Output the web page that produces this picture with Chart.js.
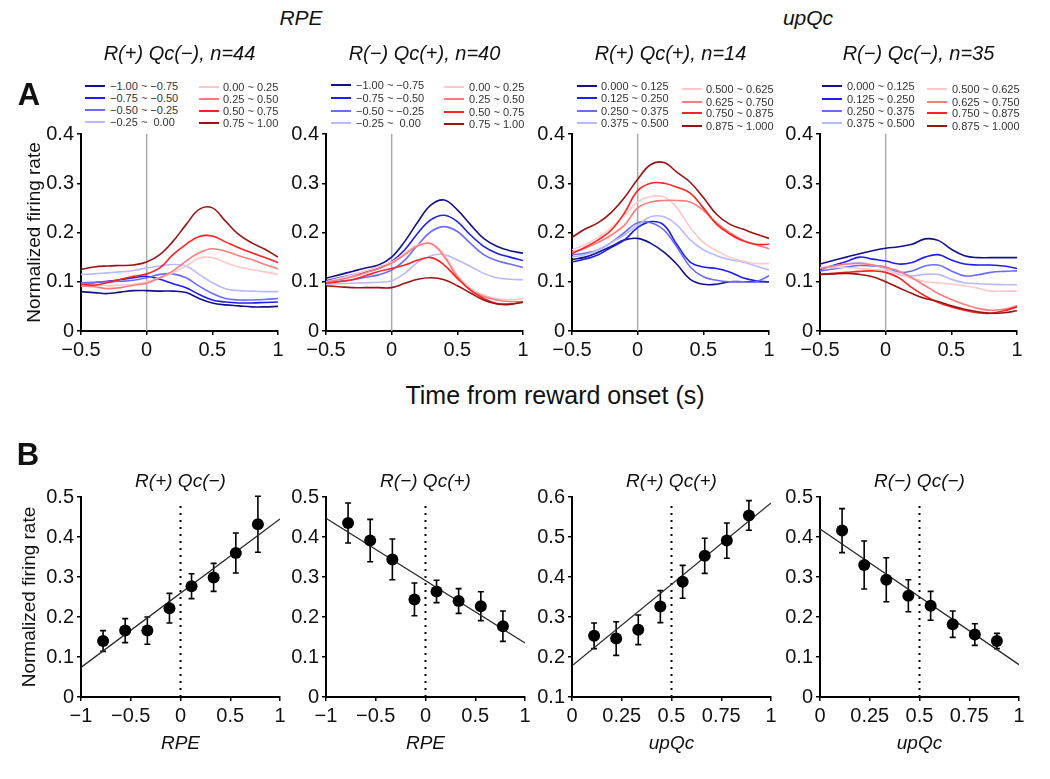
<!DOCTYPE html>
<html><head><meta charset="utf-8">
<script src="https://cdn.jsdelivr.net/npm/chart.js@4.4.1/dist/chart.umd.min.js"></script>
<style>
html,body{margin:0;padding:0;background:#fff;}
#wrap{position:relative;width:1050px;height:779px;overflow:hidden;font-family:'Liberation Sans',Arial,sans-serif;color:#111;}
canvas{position:absolute;}
.t{position:absolute;white-space:nowrap;transform:translate(-50%,-50%);line-height:1;}
.lg{position:absolute;white-space:pre;font-size:11px;color:#333;line-height:1;transform:translateY(-50%);}
.ll{position:absolute;height:2px;transform:translateY(-50%);}
</style></head><body><div id="wrap"></div>
<script>
// ---------------- DATA ----------------
const timeA = [-0.5,-0.4,-0.3,-0.2,-0.1,0,0.1,0.2,0.3,0.4,0.5,0.6,0.7,0.8,0.9,1.0];
const onsetTime = 0;
const rpeBins = ['−1.00 ~ −0.75','−0.75 ~ −0.50','−0.50 ~ −0.25','−0.25 ~  0.00','0.00 ~ 0.25','0.25 ~ 0.50','0.50 ~ 0.75','0.75 ~ 1.00'];
const upQcBins = ['0.000 ~ 0.125','0.125 ~ 0.250','0.250 ~ 0.375','0.375 ~ 0.500','0.500 ~ 0.625','0.625 ~ 0.750','0.750 ~ 0.875','0.875 ~ 1.000'];
const panelTitlesA = ['R(+) Qc(−), n=44','R(−) Qc(+), n=40','R(+) Qc(+), n=14','R(−) Qc(−), n=35'];
const panelTitlesB = ['R(+) Qc(−)','R(−) Qc(+)','R(+) Qc(+)','R(−) Qc(−)'];
const groupTitles = ['RPE','upQc'];
const xTitlesB = ['RPE','RPE','upQc','upQc'];

// Panel A1: R(+) Qc(-)
const a1_s1 = [0.080,0.078,0.076,0.079,0.082,0.082,0.081,0.081,0.078,0.066,0.057,0.053,0.051,0.049,0.049,0.050];
const a1_s2 = [0.096,0.098,0.101,0.104,0.108,0.111,0.105,0.096,0.088,0.074,0.063,0.059,0.057,0.057,0.058,0.059];
const a1_s3 = [0.098,0.099,0.100,0.101,0.103,0.108,0.115,0.116,0.108,0.091,0.076,0.066,0.063,0.063,0.064,0.066];
const a1_s4 = [0.115,0.116,0.118,0.120,0.123,0.128,0.132,0.135,0.132,0.115,0.098,0.086,0.082,0.081,0.080,0.080];
const a1_s5 = [0.095,0.094,0.092,0.093,0.095,0.100,0.108,0.118,0.132,0.148,0.149,0.139,0.130,0.125,0.120,0.115];
const a1_s6 = [0.091,0.090,0.086,0.088,0.093,0.097,0.108,0.122,0.142,0.159,0.167,0.162,0.153,0.145,0.135,0.126];
const a1_s7 = [0.095,0.093,0.098,0.105,0.111,0.116,0.128,0.155,0.176,0.192,0.193,0.181,0.169,0.159,0.149,0.139];
const a1_s8 = [0.125,0.130,0.132,0.133,0.134,0.140,0.155,0.182,0.216,0.247,0.250,0.223,0.196,0.179,0.166,0.150];
// Panel A2: R(-) Qc(+)
const a2_s1 = [0.107,0.114,0.121,0.128,0.134,0.150,0.182,0.222,0.256,0.266,0.246,0.216,0.188,0.172,0.163,0.158];
const a2_s2 = [0.102,0.108,0.114,0.120,0.127,0.141,0.165,0.199,0.226,0.235,0.222,0.195,0.172,0.158,0.150,0.143];
const a2_s3 = [0.099,0.101,0.104,0.109,0.114,0.124,0.144,0.175,0.202,0.212,0.202,0.178,0.155,0.143,0.136,0.129];
const a2_s4 = [0.095,0.096,0.097,0.098,0.099,0.102,0.117,0.140,0.153,0.155,0.144,0.131,0.117,0.108,0.105,0.104];
const a2_s5 = [0.100,0.107,0.114,0.122,0.131,0.140,0.158,0.175,0.178,0.155,0.114,0.087,0.073,0.066,0.064,0.066];
const a2_s6 = [0.099,0.104,0.110,0.118,0.127,0.138,0.155,0.173,0.177,0.151,0.110,0.083,0.070,0.063,0.060,0.060];
const a2_s7 = [0.097,0.100,0.104,0.112,0.121,0.127,0.134,0.144,0.149,0.134,0.107,0.083,0.066,0.056,0.055,0.058];
const a2_s8 = [0.092,0.090,0.088,0.088,0.088,0.088,0.097,0.105,0.108,0.104,0.092,0.077,0.063,0.055,0.054,0.059];
// Panel A3: R(+) Qc(+)
const a3_s1 = [0.145,0.150,0.160,0.172,0.185,0.188,0.178,0.160,0.135,0.105,0.095,0.095,0.100,0.100,0.100,0.100];
const a3_s2 = [0.140,0.146,0.155,0.170,0.185,0.210,0.222,0.215,0.175,0.140,0.130,0.127,0.120,0.108,0.102,0.100];
const a3_s3 = [0.155,0.158,0.165,0.180,0.200,0.220,0.220,0.205,0.170,0.130,0.110,0.103,0.100,0.100,0.100,0.112];
const a3_s4 = [0.150,0.155,0.165,0.180,0.195,0.215,0.232,0.232,0.215,0.185,0.165,0.153,0.145,0.140,0.132,0.124];
const a3_s5 = [0.165,0.175,0.190,0.210,0.235,0.262,0.273,0.272,0.250,0.210,0.180,0.163,0.150,0.142,0.137,0.137];
const a3_s6 = [0.160,0.168,0.180,0.195,0.215,0.250,0.262,0.265,0.265,0.262,0.245,0.220,0.200,0.185,0.175,0.167];
const a3_s7 = [0.157,0.170,0.185,0.205,0.240,0.285,0.300,0.300,0.292,0.280,0.250,0.217,0.197,0.183,0.176,0.176];
const a3_s8 = [0.190,0.207,0.220,0.241,0.271,0.308,0.338,0.342,0.322,0.302,0.271,0.237,0.217,0.207,0.197,0.188];
// Panel A4: R(-) Qc(-)
const a4_s1 = [0.136,0.143,0.150,0.157,0.163,0.168,0.171,0.176,0.187,0.184,0.166,0.153,0.149,0.149,0.149,0.149];
const a4_s2 = [0.125,0.133,0.141,0.150,0.146,0.142,0.136,0.139,0.150,0.155,0.144,0.136,0.134,0.134,0.132,0.127];
const a4_s3 = [0.122,0.126,0.130,0.133,0.132,0.130,0.119,0.122,0.132,0.134,0.122,0.112,0.114,0.119,0.121,0.122];
const a4_s4 = [0.127,0.132,0.136,0.139,0.134,0.127,0.115,0.112,0.115,0.115,0.105,0.098,0.096,0.095,0.094,0.094];
const a4_s5 = [0.129,0.129,0.129,0.127,0.125,0.123,0.117,0.107,0.100,0.098,0.095,0.092,0.087,0.081,0.081,0.081];
const a4_s6 = [0.127,0.132,0.136,0.137,0.134,0.129,0.122,0.108,0.092,0.076,0.064,0.054,0.046,0.042,0.044,0.051];
const a4_s7 = [0.115,0.117,0.119,0.121,0.122,0.119,0.108,0.088,0.071,0.058,0.049,0.042,0.037,0.036,0.041,0.049];
const a4_s8 = [0.115,0.116,0.117,0.115,0.110,0.100,0.088,0.076,0.066,0.060,0.051,0.044,0.039,0.036,0.037,0.041];

// Panel B
const bRpeX  = [-0.778,-0.556,-0.333,-0.111,0.111,0.333,0.556,0.778];
const bUpQcX = [0.111,0.222,0.333,0.444,0.556,0.667,0.778,0.889];
const b1Mean = [0.140,0.166,0.166,0.222,0.277,0.299,0.360,0.432];
const b1Err  = [0.026,0.030,0.034,0.037,0.031,0.035,0.050,0.070];
const b1Fit  = [0.074,0.445];
const b2Mean = [0.435,0.391,0.344,0.244,0.264,0.240,0.227,0.177];
const b2Err  = [0.050,0.053,0.051,0.041,0.028,0.031,0.036,0.038];
const b2Fit  = [0.447,0.135];
const b3Mean = [0.253,0.246,0.268,0.326,0.388,0.453,0.491,0.554];
const b3Err  = [0.032,0.042,0.037,0.040,0.041,0.044,0.044,0.037];
const b3Fit  = [0.178,0.585];
const b4Mean = [0.416,0.330,0.293,0.253,0.228,0.182,0.156,0.140];
const b4Err  = [0.055,0.060,0.055,0.040,0.036,0.033,0.027,0.019];
const b4Fit  = [0.420,0.081];

// ---------------- STYLE / LAYOUT ----------------
const binColors = ['#12128c','#1e1ef0','#6b6bff','#b9b9ff','#ffc8c8','#ff7b7b','#ff2222','#9a1414'];
const FONT = "'Liberation Sans', Arial, sans-serif";
const colLeft = [81,326,572,820];
const plotW = 197;
const aTop = 134, aH = 197;
const bTop = 497, bH = 200;
const YW = 70, PADT = 15, PADR = 15;

Chart.defaults.font.family = FONT;
const wrap = document.getElementById('wrap');

function addText(txt, cx, cy, css){
  const d = document.createElement('div');
  d.className = 't'; d.textContent = txt; d.style.left = cx+'px'; d.style.top = cy+'px';
  Object.assign(d.style, css||{});
  wrap.appendChild(d);
}
function addCanvas(left, top, w, h){
  const c = document.createElement('canvas');
  c.width = w; c.height = h;
  c.style.left = left+'px'; c.style.top = top+'px';
  c.style.width = w+'px'; c.style.height = h+'px';
  wrap.appendChild(c);
  return c;
}
const fmt = v => String(Math.round(v*1000)/1000).replace('-', '−');

function scalesCfg(o){
  return {
    x: {
      type:'linear', min:o.xmin, max:o.xmax,
      ticks:{stepSize:o.xstep, callback:fmt, font:{family:FONT,size:20}, color:'#111', padding:3, maxRotation:0, autoSkip:false},
      grid:{display:true, drawOnChartArea:false, drawTicks:true, tickLength:4, color:'#000', lineWidth:1.5},
      border:{display:true, color:'#000', width:2},
      title: o.xTitle ? {display:true, text:o.xTitle, color:'#111', font:{family:FONT,size:19,style:'italic',lineHeight:1.2}, padding:{top:0,bottom:2}} : {display:false},
      afterFit: s => { s.height = o.xh; }
    },
    y: {
      type:'linear', min:o.ymin, max:o.ymax,
      ticks:{stepSize:o.ystep, callback:fmt, font:{family:FONT,size:20}, color:'#111', padding:3, autoSkip:false},
      grid:{display:true, drawOnChartArea:false, drawTicks:true, tickLength:4, color:'#000', lineWidth:1.5},
      border:{display:true, color:'#000', width:2},
      title: o.yTitle ? {display:true, text:o.yTitle, color:'#111', font:{family:FONT,size:19,lineHeight:1.2}, padding:{top:o.yTitlePad,bottom:0}} : {display:false},
      afterFit: s => { s.width = YW; }
    }
  };
}

const errorBarPlugin = {
  id:'errbars',
  beforeDatasetsDraw(chart, args, opts){
    if(!opts || !opts.xs) return;
    const {ctx} = chart; const x = chart.scales.x, y = chart.scales.y;
    ctx.save(); ctx.strokeStyle = '#000'; ctx.lineWidth = 1.6;
    opts.xs.forEach((xv,i)=>{
      const px = x.getPixelForValue(xv);
      const y1 = y.getPixelForValue(opts.mean[i]+opts.err[i]);
      const y2 = y.getPixelForValue(opts.mean[i]-opts.err[i]);
      ctx.beginPath();
      ctx.moveTo(px,y1); ctx.lineTo(px,y2);
      ctx.moveTo(px-3,y1); ctx.lineTo(px+3,y1);
      ctx.moveTo(px-3,y2); ctx.lineTo(px+3,y2);
      ctx.stroke();
    });
    ctx.restore();
  }
};

const commonOpts = {
  responsive:false, animation:false, events:[],
  layout:{padding:{top:PADT,right:PADR,left:0,bottom:0}},
  plugins:{legend:{display:false}, tooltip:{enabled:false}, title:{display:false}}
};

// ---------------- PANEL A ----------------
const seriesA = [
  [a1_s1,a1_s2,a1_s3,a1_s4,a1_s5,a1_s6,a1_s7,a1_s8],
  [a2_s1,a2_s2,a2_s3,a2_s4,a2_s5,a2_s6,a2_s7,a2_s8],
  [a3_s1,a3_s2,a3_s3,a3_s4,a3_s5,a3_s6,a3_s7,a3_s8],
  [a4_s1,a4_s2,a4_s3,a4_s4,a4_s5,a4_s6,a4_s7,a4_s8]
];
const binsA = [rpeBins, rpeBins, upQcBins, upQcBins];
const legendLayout = [
  {c1:4, t1:29, c2:118, t2:142, r1:[86,98,110,122], r2:[87,99,111,123]},
  {c1:5, t1:30, c2:118, t2:143, r1:[85,98,111,123], r2:[87,99,112,124]},
  {c1:5, t1:29, c2:110, t2:134, r1:[86,98,111,123], r2:[89,102,113,126]},
  {c1:2, t1:27, c2:107, t2:132, r1:[86,99,111,123], r2:[89,102,113,126]}
];

seriesA.forEach((list, p) => {
  const cv = addCanvas(colLeft[p]-YW, aTop-PADT, YW+plotW+PADR, PADT+aH+40);
  const datasets = list.map((s, k) => ({
    type:'line', data: timeA.map((t,i)=>({x:t, y:s[i]})),
    borderColor: binColors[k], borderWidth:1.6, pointRadius:0,
    tension:0.4, fill:false, order: 8-k
  }));
  datasets.push({type:'line', data:[{x:onsetTime,y:0},{x:onsetTime,y:0.4}], borderColor:'#a9a9a9', borderWidth:1.5, pointRadius:0, order:100});
  new Chart(cv, {
    type:'line',
    data:{datasets},
    options: Object.assign({}, commonOpts, {
      scales: scalesCfg({xmin:-0.5,xmax:1,xstep:0.5,ymin:0,ymax:0.4,ystep:0.1,xh:40,
        yTitle: p===0 ? 'Normalized firing rate' : null, yTitlePad:12.6})
    })
  });
  // legend (HTML)
  const L = legendLayout[p];
  binsA[p].forEach((lab, k) => {
    const col = k < 4 ? 0 : 1; const r = k % 4;
    const lx = colLeft[p] + (col ? L.c2 : L.c1);
    const tx = colLeft[p] + (col ? L.t2 : L.t1);
    const yy = (col ? L.r2 : L.r1)[r];
    const ln = document.createElement('div');
    ln.className = 'll'; ln.style.left = lx+'px'; ln.style.top = yy+'px'; ln.style.width = '20px'; ln.style.background = binColors[k];
    wrap.appendChild(ln);
    const tt = document.createElement('div');
    tt.className = 'lg'; tt.textContent = lab; tt.style.left = tx+'px'; tt.style.top = yy+'px';
    wrap.appendChild(tt);
  });
  addText(panelTitlesA[p], colLeft[p]+plotW/2, 53, {fontSize:'20px', fontStyle:'italic'});
});

// ---------------- PANEL B ----------------
const panelsB = [
  {xs:bRpeX, mean:b1Mean, err:b1Err, fit:b1Fit, xmin:-1, xmax:1, xstep:0.5, ymin:0, ymax:0.5, mid:0},
  {xs:bRpeX, mean:b2Mean, err:b2Err, fit:b2Fit, xmin:-1, xmax:1, xstep:0.5, ymin:0, ymax:0.5, mid:0},
  {xs:bUpQcX, mean:b3Mean, err:b3Err, fit:b3Fit, xmin:0, xmax:1, xstep:0.25, ymin:0.1, ymax:0.6, mid:0.5},
  {xs:bUpQcX, mean:b4Mean, err:b4Err, fit:b4Fit, xmin:0, xmax:1, xstep:0.25, ymin:0, ymax:0.5, mid:0.5}
];
panelsB.forEach((P, p) => {
  const cv = addCanvas(colLeft[p]-YW, bTop-PADT, YW+plotW+2+PADR, PADT+bH+60);
  const datasets = [
    {type:'scatter', data:P.xs.map((v,i)=>({x:v,y:P.mean[i]})), pointRadius:6, pointBackgroundColor:'#000', pointBorderColor:'#000', borderWidth:0, order:0},
    {type:'line', data:[{x:P.xmin,y:P.fit[0]},{x:P.xmax,y:P.fit[1]}], borderColor:'#2a2a2a', borderWidth:1.3, pointRadius:0, order:5},
    {type:'line', data:[{x:P.mid,y:P.ymin},{x:P.mid,y:P.ymax-0.012}], borderColor:'#000', borderWidth:2, borderDash:[2,5], pointRadius:0, order:10}
  ];
  new Chart(cv, {
    type:'scatter',
    data:{datasets},
    plugins:[errorBarPlugin],
    options: Object.assign({}, commonOpts, {
      plugins:{legend:{display:false}, tooltip:{enabled:false}, title:{display:false}, errbars:{xs:P.xs, mean:P.mean, err:P.err}},
      scales: scalesCfg({xmin:P.xmin,xmax:P.xmax,xstep:P.xstep,ymin:P.ymin,ymax:P.ymax,ystep:0.1,xh:60,
        xTitle:xTitlesB[p], yTitle: p===0 ? 'Normalized firing rate' : null, yTitlePad:7.6})
    })
  });
  addText(panelTitlesB[p], colLeft[p]+plotW/2+1, 480, {fontSize:'19px', fontStyle:'italic'});
});

// ---------------- OTHER TEXT ----------------
addText('A', 29, 94, {fontSize:'31px', fontWeight:'bold'});
addText('B', 28, 454, {fontSize:'31px', fontWeight:'bold'});
addText(groupTitles[0], 301, 17, {fontSize:'21px', fontStyle:'italic'});
addText(groupTitles[1], 808, 17, {fontSize:'21px', fontStyle:'italic'});
addText('Time from reward onset (s)', 555, 395, {fontSize:'25px'});
</script></body></html>
